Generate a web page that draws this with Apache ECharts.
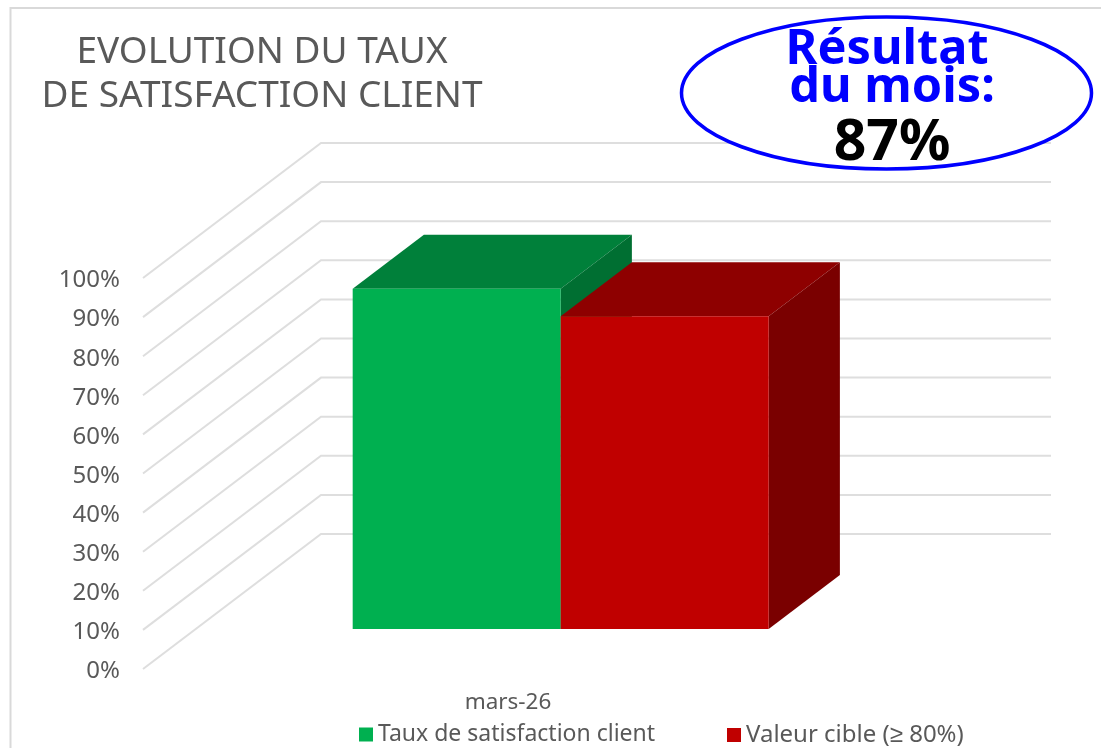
<!DOCTYPE html>
<html><head><meta charset="utf-8">
<style>html,body{margin:0;padding:0;background:#fff}#c{width:1101px;height:748px}</style>
<script src="https://cdn.jsdelivr.net/npm/echarts@6/dist/echarts.min.js"></script>
</head><body><div id="c"></div>
<script>
const categories = ['mars-26'];
const satisfaction = [87];
const target = [80];
const yTicks = [0,10,20,30,40,50,60,70,80,90,100];
const seriesNames = ['Taux de satisfaction client','Valeur cible (≥ 80%)'];
const titleText = 'EVOLUTION DU TAUX\nDE SATISFACTION CLIENT';
const badgeLines = ['Résultat','du mois:','87%'];

const FONT = '"Noto Sans", sans-serif';
const GREY = '#595959';
const DEPTH = [178,-135];      // full floor depth in px
const BAR_Z = 0.296;           // depth of bar front
const BAR_D = 0.4;             // bar depth
const BAR_W = 208;

function wallItem(params, api){
  const v = api.value(0);
  const c = api.coord([0, v]);
  const band = api.size([1,0])[0];
  const l = c[0]-band/2, r = c[0]+band/2;
  return {type:'polyline', silent:true,
    shape:{points:[[l,c[1]],[l+DEPTH[0],c[1]+DEPTH[1]],[r+DEPTH[0],c[1]+DEPTH[1]]]},
    style:{stroke:'#dedede',lineWidth:2,fill:null}};
}
function barItem(side, cols){
  return function(params, api){
    const p0 = api.coord([api.value(0),0]);
    const p1 = api.coord([api.value(0),api.value(1)]);
    const ox = DEPTH[0]*BAR_Z, oy = DEPTH[1]*BAR_Z;
    const dx = DEPTH[0]*BAR_D, dy = DEPTH[1]*BAR_D;
    const x0 = p0[0]+ox+(side<0?-BAR_W:0), x1 = x0+BAR_W;
    const yb = p0[1]+oy, yt = p1[1]+oy;
    const poly=(pts,fill)=>({type:'polygon',shape:{points:pts},style:{fill:fill}});
    return {type:'group',children:[
      poly([[x0,yt],[x1,yt],[x1+dx,yt+dy],[x0+dx,yt+dy]],cols[1]),
      poly([[x1,yt],[x1+dx,yt+dy],[x1+dx,yb+dy],[x1,yb]],cols[2]),
      poly([[x0,yt],[x1,yt],[x1,yb],[x0,yb]],cols[0])
    ]};
  };
}
const chart = echarts.init(document.getElementById('c'),null,{renderer:'canvas'});
chart.setOption({
  animation:false,
  backgroundColor:'#fff',
  textStyle:{fontFamily:FONT},
  title:{text:titleText,left:257,textAlign:'center',top:25,
    textStyle:{fontFamily:FONT,fontSize:37,fontWeight:'normal',color:GREY,lineHeight:44}},
  grid:{left:143,width:730,top:278,height:391},
  xAxis:{type:'category',data:categories,axisLine:{show:false},axisTick:{show:false},
    axisLabel:{color:GREY,fontSize:22.5,margin:22,fontFamily:FONT}},
  yAxis:{type:'value',min:0,max:100,interval:10,splitLine:{show:false},axisLine:{show:false},axisTick:{show:false},
    axisLabel:{color:GREY,fontSize:24,margin:23,formatter:'{a|{value}%}',fontFamily:FONT,
      rich:{a:{color:GREY,fontSize:24,fontFamily:FONT,padding:[5,0,0,0]}}}},
  legend:[
    {data:[seriesNames[0]],left:354,top:718,itemWidth:14,itemHeight:14,itemGap:5,icon:'rect',
     textStyle:{color:GREY,fontSize:23,fontFamily:FONT,padding:[0,0,0,0]}},
    {data:[seriesNames[1]],left:722,top:718,itemWidth:14,itemHeight:14,itemGap:5,icon:'rect',
     textStyle:{color:GREY,fontSize:24,fontFamily:FONT,padding:[0,0,0,0]}}
  ],
  series:[
    {type:'custom',name:'walls',coordinateSystem:'cartesian2d',clip:false,silent:true,z:1,
     data:yTicks.map(v=>[v]),encode:{x:-1,y:0},renderItem:wallItem},
    {type:'custom',name:seriesNames[0],coordinateSystem:'cartesian2d',clip:false,z:2,
     itemStyle:{color:'#00B050'},data:categories.map((c,i)=>[i,satisfaction[i]]),encode:{x:0,y:1},
     renderItem:barItem(-1,['#00B050','#00803A','#006F32'])},
    {type:'custom',name:seriesNames[1],coordinateSystem:'cartesian2d',clip:false,z:3,
     itemStyle:{color:'#C00000'},data:categories.map((c,i)=>[i,target[i]]),encode:{x:0,y:1},
     renderItem:barItem(1,['#C00000','#8E0000','#7A0000'])}
  ],
  graphic:[
    {type:'rect',z:0,silent:true,shape:{x:10.5,y:8,width:1300,height:1000},style:{fill:null,stroke:'#d9d9d9',lineWidth:2}},
    {type:'ellipse',z:100,shape:{cx:886.5,cy:93,rx:205,ry:76},style:{fill:'#fff',stroke:'#0000ff',lineWidth:3.5}},
    {type:'text',z:101,x:887,y:50,style:{text:badgeLines[0],fill:'#0000ff',font:'bold 48.7px '+FONT,align:'center',verticalAlign:'middle'}},
    {type:'text',z:101,x:892,y:88,style:{text:badgeLines[1],fill:'#0000ff',font:'bold 48.7px '+FONT,align:'center',verticalAlign:'middle'}},
    {type:'text',z:101,x:892,y:144,style:{text:badgeLines[2],fill:'#000',font:'bold 57px '+FONT,align:'center',verticalAlign:'middle'}}
  ]
});
</script></body></html>
